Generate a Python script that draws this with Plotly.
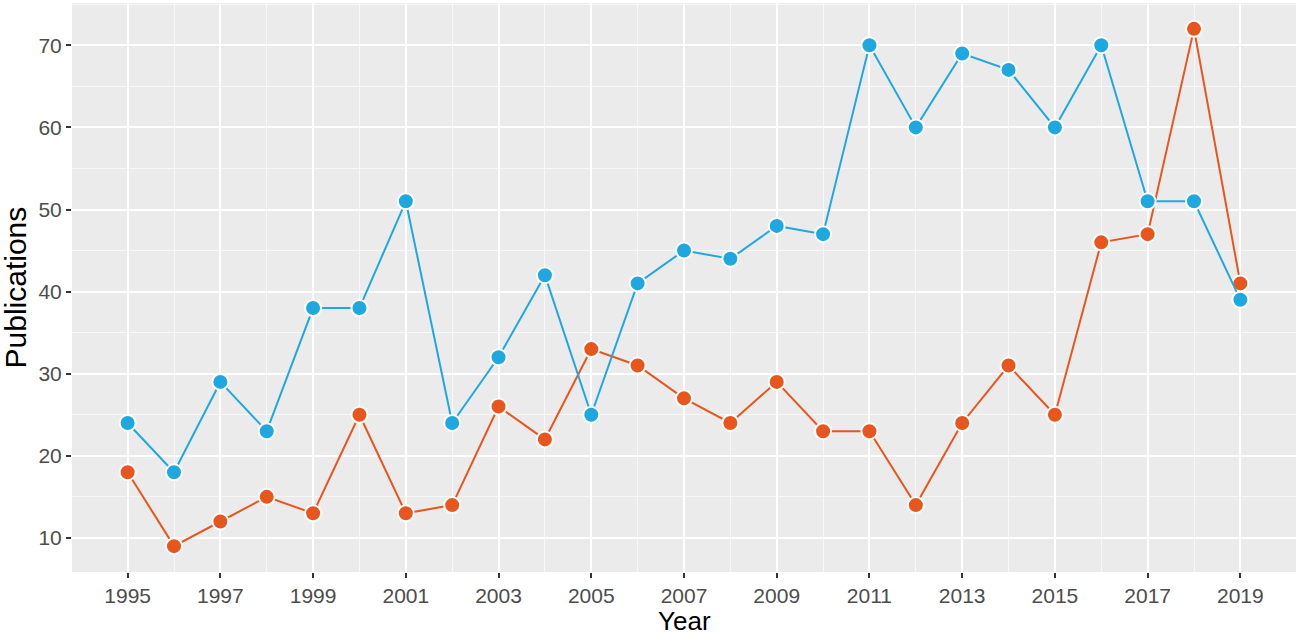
import plotly.graph_objects as go

years = list(range(1995, 2020))
blue_vals = [24, 18, 29, 23, 38, 38, 51, 24, 32, 42, 25, 41, 45, 44, 48, 47, 70, 60, 69, 67, 60, 70, 51, 51, 39]
orange_vals = [18, 9, 12, 15, 13, 25, 13, 14, 26, 22, 33, 31, 27, 24, 29, 23, 23, 14, 24, 31, 25, 46, 47, 72, 41]
x_ticks = list(range(1995, 2020, 2))
x_minor = list(range(1996, 2020, 2))
y_ticks = [10, 20, 30, 40, 50, 60, 70]
y_minor = [15, 25, 35, 45, 55, 65, 75]

BLUE = "#1FA8E0"
ORANGE = "#E8561E"
FONT = "Liberation Sans, Arial, sans-serif"

fig = go.Figure()
fig.add_trace(go.Scatter(
    x=years, y=orange_vals, mode="lines+markers",
    line=dict(color=ORANGE, width=2),
    marker=dict(color=ORANGE, size=16, line=dict(color="white", width=2)),
    showlegend=False, cliponaxis=False,
))
fig.add_trace(go.Scatter(
    x=years, y=blue_vals, mode="lines+markers",
    line=dict(color=BLUE, width=2),
    marker=dict(color=BLUE, size=16, line=dict(color="white", width=2)),
    showlegend=False, cliponaxis=False,
))

axis_common = dict(
    showgrid=True, gridcolor="white", gridwidth=1.8,
    zeroline=False, showline=False, automargin=False,
    ticks="outside", ticklen=5, tickwidth=1.5, tickcolor="#333333",
    tickfont=dict(family=FONT, size=21, color="#4D4D4D"),
)

fig.update_layout(
    width=1300, height=636,
    margin=dict(l=72, r=4, t=3, b=64),
    paper_bgcolor="white", plot_bgcolor="#EBEBEB",
    font=dict(family=FONT, color="black"),
    xaxis=dict(
        **axis_common,
        range=[1993.8, 2020.2],
        tickvals=x_ticks,
        minor=dict(tickvals=x_minor, showgrid=True, gridcolor="#F8F8F8", gridwidth=0.9, ticks=""),
    ),
    yaxis=dict(
        **axis_common,
        range=[5.85, 75.15],
        tickvals=y_ticks,
        minor=dict(tickvals=y_minor, showgrid=True, gridcolor="#F8F8F8", gridwidth=0.9, ticks=""),
    ),
    annotations=[
        dict(text="Year", xref="paper", yref="paper", x=0.5, y=0,
             xanchor="center", yanchor="middle", yshift=-49, showarrow=False,
             font=dict(family=FONT, size=26, color="black")),
        dict(text="Publications", xref="paper", yref="paper", x=0, y=0.5,
             xanchor="center", yanchor="middle", xshift=-57, textangle=-90, showarrow=False,
             font=dict(family=FONT, size=30, color="black")),
    ],
)

fig.write_html(
    "out.html",
    config={"displayModeBar": False},
    post_script="document.body.style.margin='0';document.body.style.overflow='hidden';",
)
